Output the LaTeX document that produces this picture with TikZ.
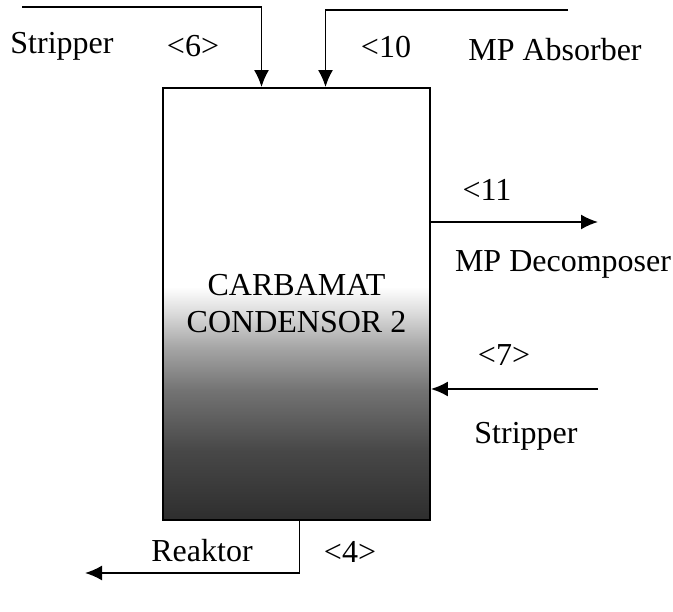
\documentclass[tikz,border=0pt]{standalone}
\usepackage{fontspec}
\setmainfont{Liberation Serif}
\usetikzlibrary{arrows.meta}
\pgfdeclareverticalshading{condshade}{100bp}{color(0bp)=(black!82); color(25bp)=(black!82); color(33bp)=(black!72); color(40bp)=(black!55); color(45bp)=(black!35); color(49bp)=(black!14); color(52bp)=(white); color(100bp)=(white)}

\begin{document}
\begin{tikzpicture}[x=1pt,y=-1pt,
  flow/.style={line width=1.8pt,-{Latex[length=17pt,width=15pt]}},
  lbl/.style={font=\fontsize{32}{36}\selectfont,inner sep=0pt}]
\useasboundingbox (0,0) rectangle (673,612);

\node[draw,line width=1.8pt,shading=condshade,minimum width=267pt,minimum height=432pt,
  align=center,font=\fontsize{32}{37}\selectfont] (cond) at (296.5,304) {CARBAMAT\\CONDENSOR 2};

\coordinate (in6) at (22,7);
\coordinate (in10) at (568,10);
\coordinate (out11) at (598,222);
\coordinate (in7) at (598,389);
\coordinate (out4) at (85,573);

\draw[flow] (in6) -| ([xshift=-35pt]cond.north);
\draw[flow] (in10) -| ([xshift=29pt]cond.north);
\draw[flow] (cond.east |- out11) -- (out11);
\draw[flow] (in7) -- (cond.east |- in7);
\draw[flow] ([xshift=3pt]cond.south) |- (out4);

\node[lbl] (stripA) at (62,46) {Stripper};
\node[lbl] (s6) at (193,46) {<6>};
\node[lbl] (s10) at (386,47) {<10};
\node[lbl] (absorb) at (555,50) {MP Absorber};
\node[lbl] (s11) at (487,190) {<11};
\node[lbl] (decomp) at (563,264) {MP Decomposer};
\node[lbl] (s7) at (504,355) {<7>};
\node[lbl] (stripB) at (526,436) {Stripper};
\node[lbl] (reak) at (202,551) {Reaktor};
\node[lbl] (s4) at (350,552) {<4>};

\end{tikzpicture}
\end{document}
